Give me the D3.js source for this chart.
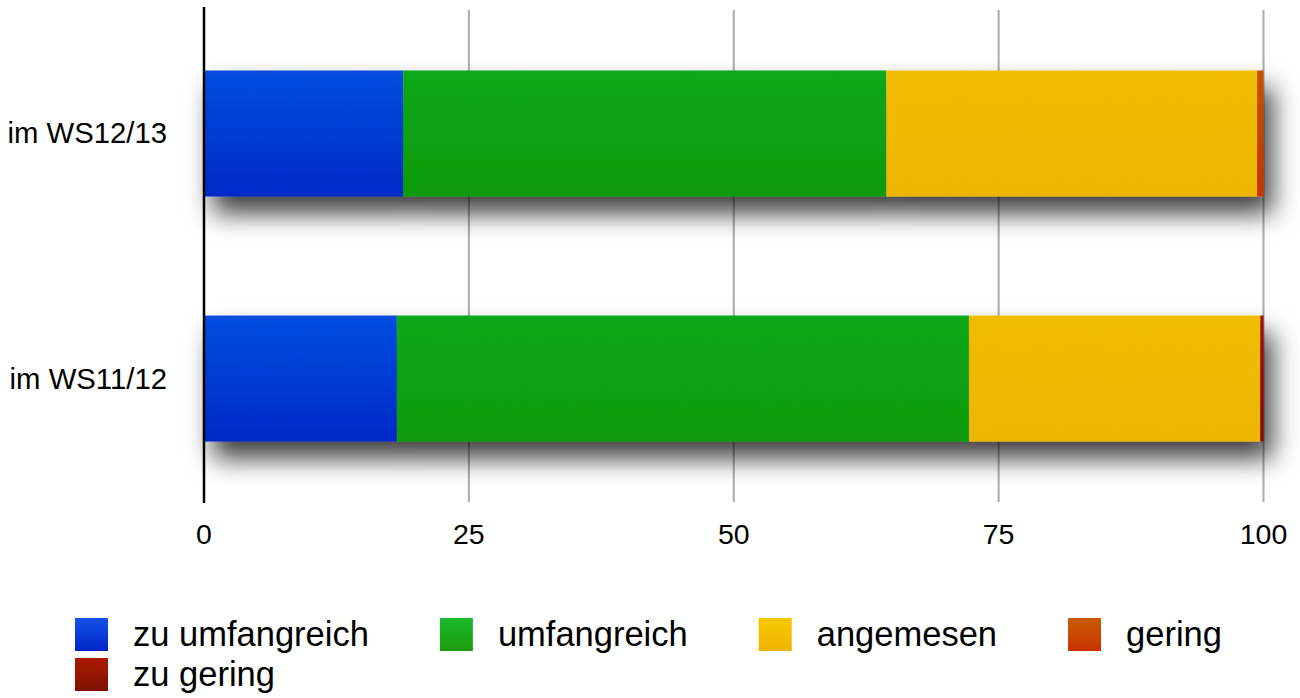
<!DOCTYPE html>
<html>
<head>
<meta charset="utf-8">
<script src="https://cdn.jsdelivr.net/npm/d3@7"></script>
<style>
  html, body { margin: 0; padding: 0; background: #fff; }
  svg { display: block; font-family: "Liberation Sans", Arial, Helvetica, sans-serif; }
</style>
</head>
<body>
<svg id="chart" width="1300" height="698"></svg>
<script>
// Semesters, top to bottom
const categories = ["im WS12/13", "im WS11/12"];
// Answer categories (stack order, left to right)
const seriesNames = ["zu umfangreich", "umfangreich", "angemesen", "gering", "zu gering"];
// Percentages per semester, one array per answer
const zuUmfangreich = [18.8, 18.2];
const umfangreich   = [45.6, 54.0];
const angemesen     = [35.0, 27.5];
const gering        = [0.6, 0.0];
const zuGering      = [0.0, 0.3];
const tickValues = [0, 25, 50, 75, 100];

const seriesValues = [zuUmfangreich, umfangreich, angemesen, gering, zuGering];
// legend swatch gradients (top, bottom)
const swatchColors = [
  ["#1553ea", "#0024c6"],
  ["#19bb2c", "#1c9a0c"],
  ["#f5c800", "#f0b400"],
  ["#c85c00", "#c83200"],
  ["#aa1a00", "#801000"]
];
// bar fill gradients (top, bottom)
const barColors = [
  ["#1250e6", "#022ccc"],
  ["#15ab20", "#129e16"],
  ["#f5c000", "#f2b900"],
  ["#c85400", "#c83800"],
  ["#a81800", "#8c1200"]
];

const rows = categories.map((c, i) => {
  const r = { category: c };
  seriesNames.forEach((s, j) => { r[s] = seriesValues[j][i]; });
  return r;
});
const stacked = d3.stack().keys(seriesNames)(rows);

const svg = d3.select("#chart");
const defs = svg.append("defs");

function addGradient(id, pair) {
  const lg = defs.append("linearGradient")
    .attr("id", id).attr("x1", 0).attr("y1", 0).attr("x2", 0).attr("y2", 1);
  lg.append("stop").attr("offset", "0%").attr("stop-color", pair[0]);
  lg.append("stop").attr("offset", "100%").attr("stop-color", pair[1]);
}
swatchColors.forEach((g, i) => addGradient("sw" + i, g));
barColors.forEach((g, i) => addGradient("bar" + i, g));

// soft drop shadow under each bar
const shadow = defs.append("filter").attr("id", "shadow")
  .attr("x", "-6%").attr("y", "-50%").attr("width", "120%").attr("height", "220%");
shadow.append("feDropShadow")
  .attr("dx", 9).attr("dy", 17).attr("stdDeviation", 13)
  .attr("flood-color", "#000").attr("flood-opacity", 0.75);

// fine grain on the bar fills
const grain = defs.append("filter").attr("id", "grain")
  .attr("x", 0).attr("y", 0).attr("width", "100%").attr("height", "100%");
grain.append("feTurbulence").attr("type", "fractalNoise")
  .attr("baseFrequency", 0.9).attr("numOctaves", 2).attr("seed", 3).attr("result", "noise");
grain.append("feColorMatrix").attr("in", "noise").attr("type", "matrix")
  .attr("values", "0 0 0 0 0  0 0 0 0 0  0 0 0 0 0  0 0 0 0.08 0").attr("result", "dark");
grain.append("feComposite").attr("in", "dark").attr("in2", "SourceGraphic")
  .attr("operator", "in").attr("result", "darkIn");
grain.append("feMerge").selectAll("feMergeNode")
  .data(["SourceGraphic", "darkIn"]).join("feMergeNode").attr("in", d => d);

const x = d3.scaleLinear().domain([0, 100]).range([204, 1263.5]);
const y = d3.scaleBand().domain(categories).range([8.5, 503.5])
  .paddingInner(0.486).paddingOuter(0.253);

// vertical grid lines
svg.append("g").selectAll("line")
  .data(tickValues.filter(v => v > 0)).join("line")
  .attr("x1", d => x(d)).attr("x2", d => x(d))
  .attr("y1", 10).attr("y2", 502)
  .attr("stroke", "#ababab").attr("stroke-width", 2);

// stacked bars
const barGroups = svg.append("g").selectAll("g.bar")
  .data(categories).join("g").attr("class", "bar")
  .attr("filter", "url(#shadow)");

barGroups.each(function(cat, ci) {
  d3.select(this).selectAll("rect")
    .data(stacked.map((s, si) => ({ si, v0: s[ci][0], v1: s[ci][1] })).filter(d => d.v1 > d.v0))
    .join("rect")
    .attr("x", d => x(d.v0))
    .attr("width", d => x(d.v1) - x(d.v0))
    .attr("y", y(cat))
    .attr("height", y.bandwidth())
    .attr("fill", d => `url(#bar${d.si})`)
    .attr("filter", "url(#grain)");
});

// value axis line
svg.append("line")
  .attr("x1", x(0)).attr("x2", x(0)).attr("y1", 7).attr("y2", 503)
  .attr("stroke", "#000").attr("stroke-width", 2.5);

// tick labels
svg.append("g").selectAll("text")
  .data(tickValues).join("text")
  .attr("x", d => x(d)).attr("y", 544)
  .attr("text-anchor", "middle")
  .attr("font-size", 28.5).attr("fill", "#000")
  .text(d => d);

// category labels
svg.append("g").selectAll("text")
  .data(categories).join("text")
  .attr("x", 167).attr("y", d => y(d) + y.bandwidth() / 2 + 10)
  .attr("text-anchor", "end")
  .attr("font-size", 29.3).attr("fill", "#000")
  .text(d => d);

// legend, flowing left to right and wrapping
const legend = svg.append("g");
let lx = 75, ly = 618;
const sw = 33, textGap = 25, itemGap = 71, rowStep = 40, maxRight = 1260;
seriesNames.forEach((name, i) => {
  const item = legend.append("g");
  item.append("rect").attr("width", sw).attr("height", sw)
    .attr("fill", `url(#sw${i})`);
  const t = item.append("text")
    .attr("x", sw + textGap).attr("y", 28)
    .attr("font-size", 34.5).attr("fill", "#000")
    .text(name);
  const w = sw + textGap + t.node().getComputedTextLength();
  if (lx + w > maxRight) { lx = 75; ly += rowStep; }
  item.attr("transform", `translate(${lx},${ly})`);
  lx += w + itemGap;
});
</script>
</body>
</html>
